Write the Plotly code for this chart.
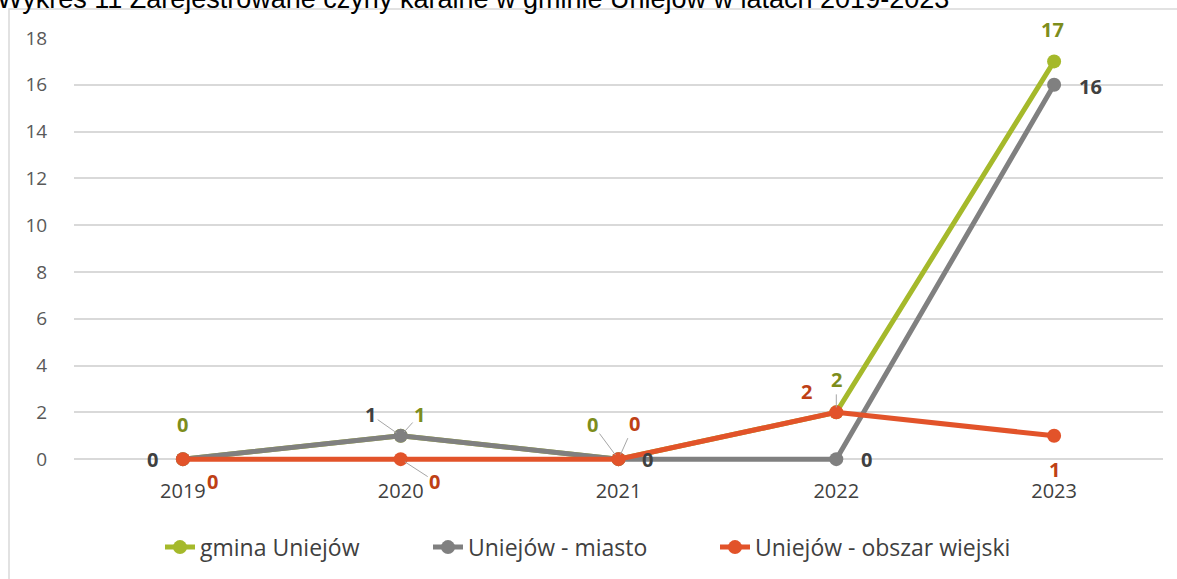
import plotly.graph_objects as go

years = ["2019", "2020", "2021", "2022", "2023"]
gmina = [0, 1, 0, 2, 17]
miasto = [0, 1, 0, 0, 16]
wiejski = [0, 0, 0, 2, 1]
series_names = ["gmina Uniejów", "Uniejów - miasto", "Uniejów - obszar wiejski"]
title_text = "Wykres 11 Zarejestrowane czyny karalne w gminie Uniejów w latach 2019-2023"

line_colors = ["#A5B92B", "#808080", "#E2532A"]
label_colors = ["#7D8D1C", "#404040", "#BE4015"]
FONT = "Open Sans"
legend_ids = ["legend", "legend2", "legend3"]

Y_MIN, Y_MAX = -0.25, 18
PX_PER_UNIT = 422 / 18
PLOT_TOP = 38
plot_h = (Y_MAX - Y_MIN) * PX_PER_UNIT
plot_bottom = PLOT_TOP + plot_h

fig = go.Figure()
for name, vals, col, lg in zip(series_names, [gmina, miasto, wiejski], line_colors, legend_ids):
    fig.add_trace(go.Scatter(
        x=years, y=vals, name=name, mode="lines+markers",
        line=dict(color=col, width=5),
        marker=dict(color=col, size=14),
        legend=lg, cliponaxis=False,
    ))

# label offsets (dx, dy in pixels, dy positive = up) and leader flag
offsets = {
    0: [(0, 35, False), (19, 21, True), (-26, 35, True), (0, 33, True), (-2, 32, False)],
    1: [(-30, 0, False), (-30, 21, True), (29, 0, False), (30, 0, False), (36, -2, False)],
    2: [(30, -22, True), (34, -22, True), (16, 36, True), (-30, 21, False), (0, -34, False)],
}
for si, vals in enumerate([gmina, miasto, wiejski]):
    for i, v in enumerate(vals):
        dx, dy, leader = offsets[si][i]
        common = dict(x=i, y=v, xref="x", yref="y", text=f"<b>{v}</b>",
                      font=dict(family=FONT, size=20, color=label_colors[si]))
        if leader:
            fig.add_annotation(**common, showarrow=True, arrowhead=0, arrowwidth=1,
                               arrowcolor="#A6A6A6", ax=dx, ay=-dy, standoff=5)
        else:
            fig.add_annotation(**common, showarrow=False, xshift=dx, yshift=dy)

fig.add_annotation(text=title_text, xref="paper", yref="paper", x=-79/1089, y=1,
                   xanchor="left", yanchor="middle", yshift=39, showarrow=False,
                   font=dict(family="Arial", size=27, color="#000000"))

fig.add_shape(type="rect", xref="paper", yref="paper",
              x0=(9 - 74) / 1089, x1=1.05, y0=-0.4, y1=1 + (PLOT_TOP - 9) / plot_h,
              line=dict(color="#D9D9D9", width=1.5), fillcolor="rgba(0,0,0,0)", layer="below")

legend_y = -(547 - plot_bottom) / plot_h
legend_style = dict(orientation="h", y=legend_y, yanchor="middle", xanchor="left",
                    font=dict(family=FONT, size=23, color="#404040"),
                    bgcolor="rgba(0,0,0,0)")
legend_px = [160, 428, 715]

fig.update_layout(
    width=1177, height=579,
    margin=dict(l=74, r=14, t=PLOT_TOP, b=579 - plot_bottom),
    paper_bgcolor="white", plot_bgcolor="white",
    font=dict(family=FONT, color="#595959"),
    showlegend=True,
    legend=dict(x=(legend_px[0] - 74) / 1089, **legend_style),
    legend2=dict(x=(legend_px[1] - 74) / 1089, **legend_style),
    legend3=dict(x=(legend_px[2] - 74) / 1089, **legend_style),
    xaxis=dict(type="category", range=[-0.5, 4.5], showgrid=False, showline=False,
               zeroline=False, ticks="outside", ticklen=8, tickcolor="rgba(0,0,0,0)",
               tickfont=dict(family=FONT, size=20, color="#404040")),
    yaxis=dict(range=[Y_MIN, Y_MAX], tick0=0, dtick=2, showgrid=True, gridcolor="#D9D9D9",
               gridwidth=1.5, zeroline=False, showline=False, ticks="outside", ticklen=22,
               tickcolor="rgba(0,0,0,0)",
               tickfont=dict(family=FONT, size=19, color="#595959")),
)

fig.write_html("out.html", config={"displayModeBar": False},
               post_script="document.body.style.margin='0';document.body.style.overflow='hidden';")
